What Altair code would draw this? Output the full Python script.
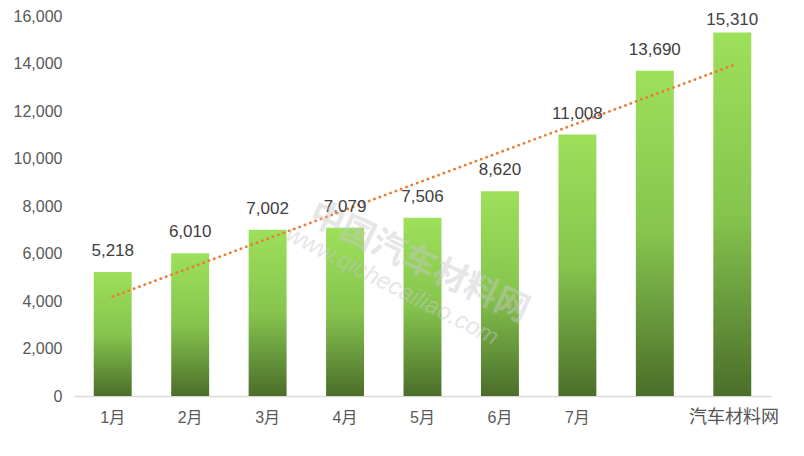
import altair as alt
import pandas as pd

months = ["1月", "2月", "3月", "4月", "5月", "6月", "7月", "8月", "9月"]
values = [5218, 6010, 7002, 7079, 7506, 8620, 11008, 13690, 15310]
y_ticks = [0, 2000, 4000, 6000, 8000, 10000, 12000, 14000, 16000]
hidden_labels = ["8月", "9月"]
watermark_corner = ["汽车材料网"]
watermark_center = ["中国汽车材料网", "www.qichecailiao.com"]

FONT = "Liberation Sans, Noto Sans CJK SC"

df = pd.DataFrame({"month": months, "value": values, "idx": list(range(1, len(months) + 1))})

hide_expr = "indexof(['8月', '9月'], datum.value) >= 0 ? '' : datum.label"

x_axis = alt.Axis(
    title=None, labelAngle=0, ticks=False, domainColor="#d9d9d9", domainWidth=1.5,
    labelFont=FONT, labelFontSize=16, labelColor="#595959", labelPadding=13,
    labelExpr=hide_expr,
)
x_scale = alt.Scale(paddingInner=0.51, paddingOuter=0.255)
y_axis = alt.Axis(
    title=None, values=y_ticks, grid=False, domain=False, ticks=False,
    labelExpr="format(datum.value, ',')",
    labelFont=FONT, labelFontSize=16, labelColor="#595959", labelPadding=12,
)
y_scale = alt.Scale(domain=[0, 16000])

X = alt.X("month:N", sort=months, scale=x_scale, axis=x_axis)
Y = alt.Y("value:Q", scale=y_scale, axis=y_axis)

base = alt.Chart(df)

bars = base.mark_bar(
    color=alt.Gradient(
        gradient="linear", x1=0, y1=0, x2=0, y2=1,
        stops=[
            alt.GradientStop(color="#9de05a", offset=0),
            alt.GradientStop(color="#86c44e", offset=0.5),
            alt.GradientStop(color="#4b6e2a", offset=1),
        ],
    )
).encode(x=X, y=Y)

max_value = max(values)

labels = base.transform_filter(f"datum.value < {max_value}").mark_text(
    font=FONT, fontSize=17, color="#404040", baseline="alphabetic", dy=-16
).encode(x=X, y=Y, text=alt.Text("value:Q", format=","))

label_top = base.transform_filter(f"datum.value == {max_value}").mark_text(
    font=FONT, fontSize=17, color="#404040", baseline="alphabetic", dy=-7
).encode(x=X, y=Y, text=alt.Text("value:Q", format=","))

trend = base.transform_regression("idx", "value").transform_calculate(
    month="toString(datum.idx) + '月'"
).mark_line(
    color="#ED7D31", strokeWidth=2.8, strokeDash=[0.1, 5.6], strokeCap="round"
).encode(x=X, y=Y)

wm_df = pd.DataFrame({"t": watermark_center, "k": [0, 1]})

wm_center = alt.Chart(wm_df).transform_filter("datum.k == 0").mark_text(
    font=FONT, fontSize=34, fontWeight="bold", color="#c8c8c8", opacity=0.45, angle=25
).encode(x=alt.value(345), y=alt.value(247), text="t:N")

wm_center2 = alt.Chart(wm_df).transform_filter("datum.k == 1").mark_text(
    font=FONT, fontSize=24, fontStyle="italic", color="#c8c8c8", opacity=0.45, angle=27
).encode(x=alt.value(318), y=alt.value(270), text="t:N")

wm_corner = alt.Chart(pd.DataFrame({"t": watermark_corner})).mark_text(
    font=FONT, fontSize=18, color="#555555"
).encode(x=alt.value(660), y=alt.value(402), text="t:N")

chart = alt.layer(bars, trend, labels, label_top, wm_center, wm_center2, wm_corner).properties(
    width=697, height=380,
    background="white",
    autosize=alt.AutoSizeParams(type="none"),
    padding={"left": 66, "top": 8, "right": 25, "bottom": 52},
).configure_view(stroke=None)

chart.save("out.html", embed_options={"renderer": "svg", "actions": False})
